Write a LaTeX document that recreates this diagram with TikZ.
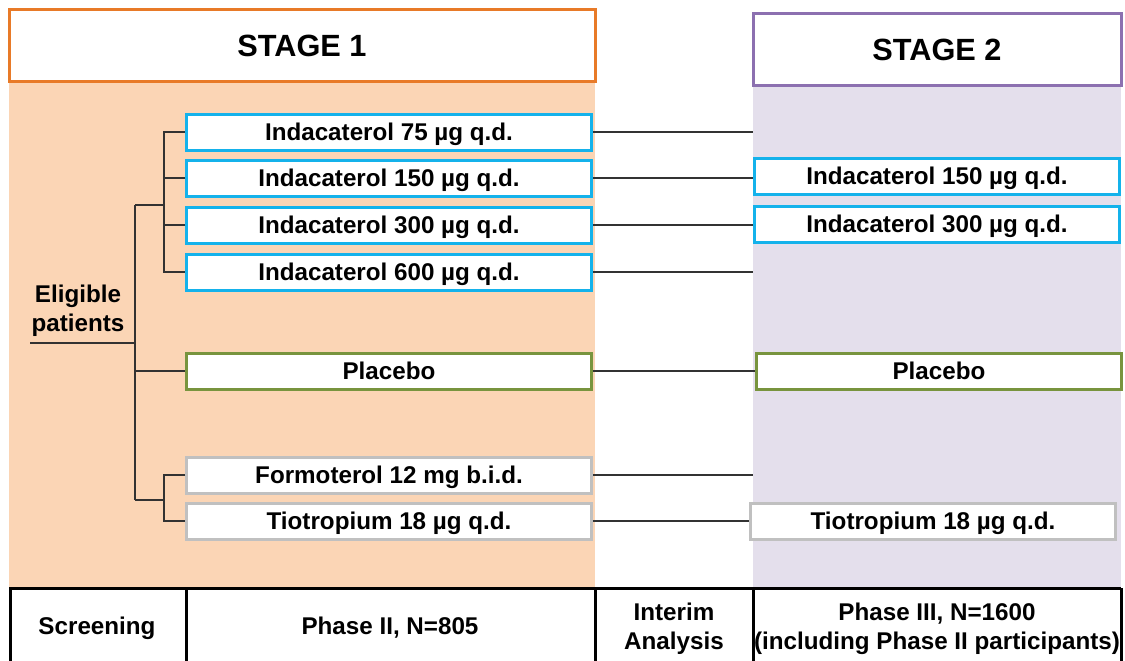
\documentclass[tikz,border=0pt]{standalone}
\usepackage{fontspec}
\setmainfont{Liberation Sans}
\definecolor{stageorange}{RGB}{232,122,40}
\definecolor{peach}{RGB}{251,213,181}
\definecolor{stagepurple}{RGB}{140,112,176}
\definecolor{lavender}{RGB}{228,223,236}
\definecolor{armblue}{RGB}{20,178,235}
\definecolor{armgreen}{RGB}{120,148,62}
\definecolor{armgray}{RGB}{192,192,192}
\definecolor{linegray}{RGB}{50,50,50}
\tikzset{
  bodyfont/.style={font=\bfseries\fontsize{24.2}{29}\selectfont},
  arm/.style={draw, line width=3pt, fill=white, minimum height=36pt,
    inner sep=0pt, text depth=0pt, bodyfont},
  s1arm/.style={arm, minimum width=405pt},
  s2arm/.style={arm, minimum width=365pt},
  ind/.style={draw=armblue},
  plac/.style={draw=armgreen},
  comp/.style={draw=armgray},
  header/.style={draw, line width=3pt, fill=white, minimum height=72pt,
    inner sep=0pt, font=\bfseries\fontsize{30.7}{36}\selectfont},
  conn/.style={draw=linegray, line width=2.5pt},
  tbl/.style={draw=black, line width=3pt},
  cell/.style={align=center, bodyfont}
}
\begin{document}
\begin{tikzpicture}[x=1pt,y=-1pt]
\useasboundingbox (0,0) rectangle (1125,661);

% stage backgrounds
\fill[peach] (9,82) rectangle (595,588);
\fill[lavender] (753,86) rectangle (1121,588);

% stage headers
\node[header, draw=stageorange, minimum width=586pt] (st1) at (302,46) {STAGE 1};
\node[header, draw=stagepurple, minimum width=368pt] (st2) at (937,50) {STAGE 2};

% stage 1 arms
\node[s1arm, ind]  (a75)  at (389,132) {Indacaterol 75 µg q.d.};
\node[s1arm, ind]  (a150) at (389,178) {Indacaterol 150 µg q.d.};
\node[s1arm, ind]  (a300) at (389,225) {Indacaterol 300 µg q.d.};
\node[s1arm, ind]  (a600) at (389,272) {Indacaterol 600 µg q.d.};
\node[s1arm, plac] (apl)  at (389,371) {Placebo};
\node[s1arm, comp] (afor) at (389,475) {Formoterol 12 mg b.i.d.};
\node[s1arm, comp] (atio) at (389,521) {Tiotropium 18 µg q.d.};

% stage 2 arms
\node[s2arm, ind]  (b150) at (937,176) {Indacaterol 150 µg q.d.};
\node[s2arm, ind]  (b300) at (937,224) {Indacaterol 300 µg q.d.};
\node[s2arm, plac] (bpl)  at (939,371) {Placebo};
\node[s2arm, comp] (btio) at (933,521) {Tiotropium 18 µg q.d.};

% dropped arms end at the stage 2 edge
\coordinate (e75)  at (753,132);
\coordinate (e600) at (753,272);
\coordinate (efor) at (753,475);

% randomisation tree
\node[cell] (elig) at (78,311) {Eligible\\patients};
\coordinate (uL)   at (30,343);
\coordinate (uR)   at (135,343);
\coordinate (tTop) at (135,205);
\coordinate (tBot) at (135,500);
\coordinate (up)   at (165,205);
\coordinate (lo)   at (165,500);
\draw[conn] (uL) -- (uR);
\draw[conn] (tTop) -- (tBot);
\draw[conn] (tTop) -- (up);
\draw[conn] (tBot) -- (lo);
\draw[conn] (a75.west) -- ++(-21,0) |- (a600.west);
\draw[conn] (a150.west) -- ++(-21,0);
\draw[conn] (a300.west) -- ++(-21,0);
\draw[conn] (apl.west -| tTop) -- (apl.west);
\draw[conn] (afor.west) -- ++(-21,0) |- (atio.west);

% stage 1 to stage 2
\draw[conn] (a75.east) -- (e75);
\draw[conn] (a150.east) -- (b150.west |- a150.east);
\draw[conn] (a300.east) -- (b300.west |- a300.east);
\draw[conn] (a600.east) -- (e600);
\draw[conn] (apl.east) -- (bpl.west);
\draw[conn] (afor.east) -- (efor);
\draw[conn] (atio.east) -- (btio.west);

% timeline table
\draw[tbl] (9,588) -- (1121,588);
\draw[tbl] (10,588) -- (10,661);
\draw[tbl] (186,588) -- (186,661);
\draw[tbl] (595,588) -- (595,661);
\draw[tbl] (753,588) -- (753,661);
\draw[tbl] (1121,588) -- (1121,661);
\node[cell] (scr) at (97,628) {Screening};
\node[cell] (ph2) at (390,628) {Phase II, N=805};
\node[cell] (ia)  at (674,629) {Interim\\Analysis};
\node[cell] (ph3) at (937,629) {Phase III, N=1600\\(including Phase II participants)};
\end{tikzpicture}
\end{document}
